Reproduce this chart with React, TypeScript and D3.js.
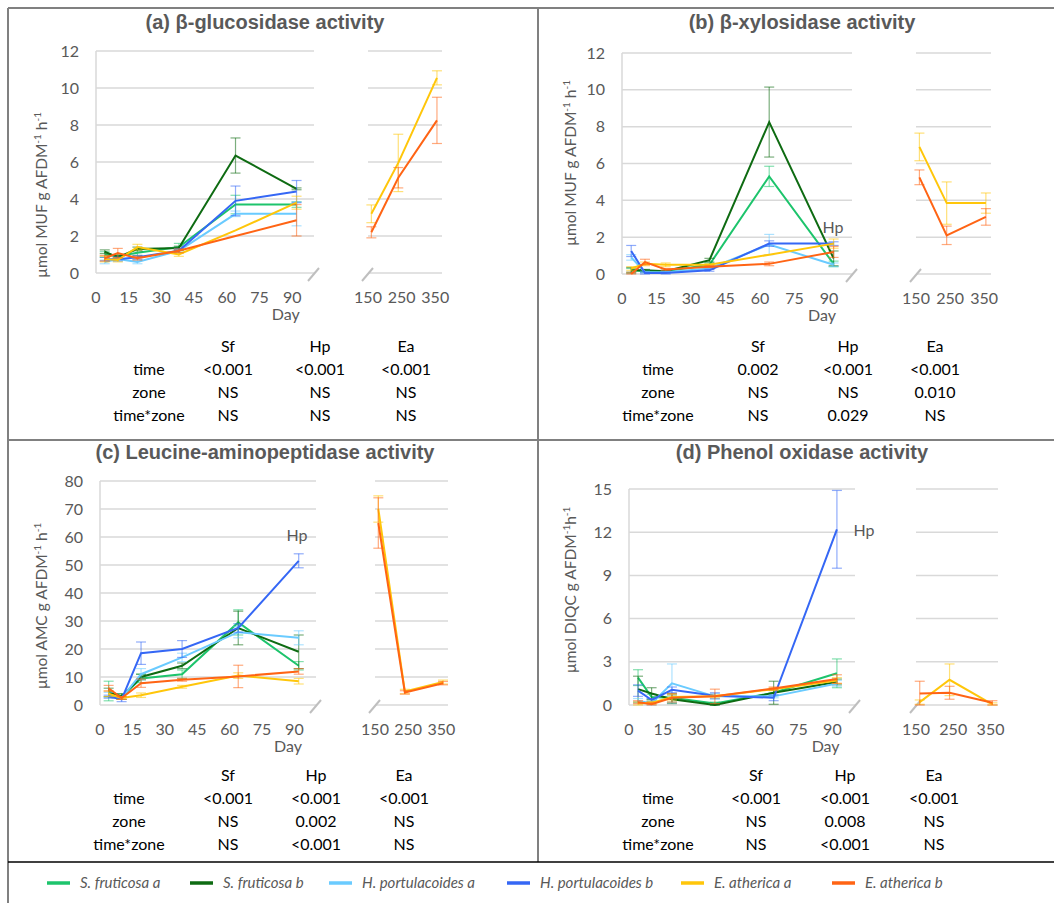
import * as d3 from 'd3';

const leftDays = [4, 10, 19, 38, 64, 92];
const rightDays = [160, 240, 355];
const leftTicks = [0, 15, 30, 45, 60, 75, 90];
const rightTicks = [150, 250, 350];

const seriesNames = ['S. fruticosa a', 'S. fruticosa b', 'H. portulacoides a', 'H. portulacoides b', 'E. atherica a', 'E. atherica b'];
const seriesColors = ['#1DC46C', '#0E6B12', '#6ACBFF', '#3567F5', '#FFC60A', '#FF6414'];

const statRows = ['time', 'zone', 'time*zone'];
const statCols = ['Sf', 'Hp', 'Ea'];

// (a) beta-glucosidase
const glcLeft = [
  [1.0, 0.9, 1.1, 1.4, 3.7, 3.7],
  [1.15, 0.85, 1.3, 1.35, 6.35, 4.55],
  [0.6, 0.75, 0.6, 1.2, 3.2, 3.2],
  [0.75, 0.75, 0.85, 1.2, 3.9, 4.4],
  [0.75, 0.7, 1.4, 1.0, 2.3, 3.8],
  [0.8, 1.08, 0.8, 1.2, 2.0, 2.85],
];
const glcLeftErr = [
  [0.15, 0.1, 0.15, 0.2, 0.5, 0.15],
  [0.1, 0.1, 0.1, 0.1, 0.95, 0.05],
  [0.1, 0.1, 0.1, 0.1, 0.15, 0.65],
  [0.1, 0.1, 0.1, 0.1, 0.8, 0.6],
  [0.15, 0.1, 0.15, 0.1, 0, 0.35],
  [0.15, 0.25, 0.1, 0.1, 0, 0.85],
];
const glcRight = [
  [3.2, 5.95, 10.55],
  [2.2, 5.15, 8.25],
];
const glcRightErr = [
  [0.48, 1.55, 0.38],
  [0.3, 0.55, 1.25],
];
const glcStats = [
  ['<0.001', '<0.001', '<0.001'],
  ['NS', 'NS', 'NS'],
  ['NS', 'NS', 'NS'],
];

// (b) beta-xylosidase
const xylLeft = [
  [0.2, 0.15, 0.15, 0.5, 5.3, 0.55],
  [0.2, 0.2, 0.15, 0.75, 8.25, 0.85],
  [0.9, 0.1, 0.1, 0.3, 1.6, 0.5],
  [1.25, 0.05, 0.05, 0.2, 1.65, 1.65],
  [0.3, 0.55, 0.5, 0.5, 1.05, 1.65],
  [0.0, 0.65, 0.25, 0.4, 0.55, 1.2],
];
const xylLeftErr = [
  [0.1, 0.05, 0.05, 0.1, 0.55, 0.15],
  [0.15, 0.05, 0.05, 0.1, 1.9, 0.4],
  [0.15, 0.05, 0.05, 0.05, 0.55, 0.1],
  [0.3, 0.05, 0.05, 0.05, 0.15, 0.1],
  [0.1, 0.1, 0.1, 0.05, 0, 0.25],
  [0.1, 0.15, 0.05, 0.05, 0.1, 0.3],
];
const xylRight = [
  [6.9, 3.85, 3.85],
  [5.25, 2.1, 3.1],
];
const xylRightErr = [
  [0.75, 1.15, 0.55],
  [0.4, 0.5, 0.45],
];
const xylStats = [
  ['0.002', '<0.001', '<0.001'],
  ['NS', 'NS', '0.010'],
  ['NS', '0.029', 'NS'],
];

// (c) leucine-aminopeptidase
const lapLeft = [
  [5.0, 3.0, 9.5, 11, 29.5, 14],
  [4.5, 3.0, 10, 14, 27.5, 19],
  [3.5, 2.5, 11, 17, 26, 24],
  [3.0, 2.0, 18.5, 20, 27.5, 51.5],
  [4.0, 2.5, 3.5, 6.5, 10.5, 8.5],
  [6.0, 2.5, 7.8, 9.0, 10.2, 12],
];
const lapLeftErr = [
  [3.5, 1, 1.5, 1.5, 4.5, 1.5],
  [1.5, 1, 1, 1, 6, 6],
  [1, 0.5, 2, 1.5, 2, 2.5],
  [0.5, 0.8, 4, 3, 1.5, 2.5],
  [1, 0.5, 0.8, 0.5, 1, 1],
  [1, 0.5, 1.5, 0.5, 4, 1],
];
const lapRight = [
  [70, 4.8, 8.2],
  [65, 4.5, 7.8],
];
const lapRightErr = [
  [4.7, 0.8, 0.7],
  [9, 0.6, 0.6],
];
const lapStats = [
  ['<0.001', '<0.001', '<0.001'],
  ['NS', '0.002', 'NS'],
  ['NS', '<0.001', 'NS'],
];

// (d) phenol oxidase
const poxLeft = [
  [1.9, 0.55, 0.5, 0.1, 0.85, 2.2],
  [1.1, 0.8, 0.4, 0.0, 0.85, 1.6],
  [0.3, 0.1, 1.5, 0.6, 0.6, 1.5],
  [1.0, 0.35, 1.05, 0.65, 0.5, 12.2],
  [0.1, 0.15, 0.55, 0.6, 1.1, 1.7],
  [0.2, 0.05, 0.5, 0.6, 1.15, 1.8],
];
const poxLeftErr = [
  [0.55, 0.2, 0.3, 0.1, 0.2, 1.0],
  [0.9, 0.4, 0.3, 0.05, 0.8, 0.2],
  [0.15, 0.1, 1.35, 0.2, 0.1, 0.2],
  [0.4, 0.1, 0.2, 0.2, 0.2, 2.7],
  [0.1, 0.1, 0.2, 0.1, 0.1, 0.2],
  [0.1, 0.1, 0.3, 0.5, 0.1, 0.3],
];
const poxRight = [
  [0.2, 1.75, 0.05],
  [0.8, 0.85, 0.15],
];
const poxRightErr = [
  [0.15, 1.1, 0.1],
  [0.85, 0.45, 0.15],
];
const poxStats = [
  ['<0.001', '<0.001', '<0.001'],
  ['NS', '0.008', 'NS'],
  ['NS', '<0.001', 'NS'],
];

const FONT = 'Lato, "Open Sans", sans-serif';
const GREY = '#595959';
const GRID = '#D9D9D9';

type Layout = {
  lx: [number, number];
  rx: [number, number];
  yr: [number, number];
  titleX: number;
  titleY: number;
  yTitleX: number;
  yTitleY: number;
  tableY: number;
  tableX: [number, number, number, number];
  hp?: [number, number];
};

function ErrBar({ x, y0, y1, color }: { x: number; y0: number; y1: number; color: string }) {
  return (
    <g stroke={color} strokeOpacity={0.55} strokeWidth={1.2}>
      <line x1={x} x2={x} y1={y0} y2={y1} />
      <line x1={x - 5} x2={x + 5} y1={y0} y2={y0} />
      <line x1={x - 5} x2={x + 5} y1={y1} y2={y1} />
    </g>
  );
}

function Panel(props: {
  title: string;
  unit: string;
  gap?: string;
  yMax: number;
  yStep: number;
  left: number[][];
  leftErr: number[][];
  right: number[][];
  rightErr: number[][];
  stats: string[][];
  L: Layout;
}) {
  const { title, unit, gap = ' ', yMax, yStep, left, leftErr, right, rightErr, stats, L } = props;
  const x = d3.scaleLinear().domain([0, 100]).range(L.lx);
  const xr = d3.scaleLinear().domain([150, 370]).range(L.rx);
  const y = d3.scaleLinear().domain([0, yMax]).range(L.yr);
  const yTicks = d3.range(0, yMax + yStep / 2, yStep);
  const bottom = L.yr[0];

  const lineL = d3
    .line<number>()
    .x((_, i) => x(leftDays[i]))
    .y((d) => y(d));
  const lineR = d3
    .line<number>()
    .x((_, i) => xr(rightDays[i]))
    .y((d) => y(d));

  return (
    <g fontFamily={FONT}>
      <text x={L.titleX} y={L.titleY} textAnchor="middle" fontFamily='"Liberation Sans", Arial, sans-serif' fontWeight="bold" fontSize={20} fill={GREY}>
        {title}
      </text>

      {/* grid */}
      {yTicks.map((t) => (
        <g key={t}>
          <line x1={L.lx[0]} x2={L.lx[1]} y1={y(t)} y2={y(t)} stroke={GRID} strokeWidth={1.5} />
          <line x1={L.rx[0]} x2={L.rx[1]} y1={y(t)} y2={y(t)} stroke={GRID} strokeWidth={1.5} />
          <text x={L.lx[0] - 17} y={y(t) + 5.5} textAnchor="end" fontSize={16} fill={GREY}>
            {t}
          </text>
        </g>
      ))}
      <line x1={L.lx[0]} x2={L.lx[0]} y1={L.yr[1]} y2={bottom} stroke={GRID} strokeWidth={1.5} />

      {/* break marks */}
      <line x1={L.lx[1] - 6} x2={L.lx[1] + 5} y1={bottom + 8} y2={bottom - 5} stroke="#BFBFBF" strokeWidth={2} />
      <line x1={L.rx[0] - 6} x2={L.rx[0] + 5} y1={bottom + 8} y2={bottom - 5} stroke="#BFBFBF" strokeWidth={2} />

      {leftTicks.map((t) => (
        <text key={t} x={x(t)} y={bottom + 30} textAnchor="middle" fontSize={16} fill={GREY}>
          {t}
        </text>
      ))}
      {rightTicks.map((t) => (
        <text key={t} x={xr(t)} y={bottom + 30} textAnchor="middle" fontSize={16} fill={GREY}>
          {t}
        </text>
      ))}
      <text x={x(87)} y={bottom + 47} textAnchor="middle" fontSize={16} fill={GREY}>
        Day
      </text>

      <text transform={`translate(${L.yTitleX},${L.yTitleY}) rotate(-90)`} textAnchor="middle" fontSize={15.5} fill={GREY}>
        {`µmol ${unit} g AFDM`}
        <tspan fontSize={10} dy={-6}>-1</tspan>
        <tspan dy={6}>{gap}h</tspan>
        <tspan fontSize={10} dy={-6}>-1</tspan>
      </text>

      {/* series */}
      {left.map((vals, s) => (
        <g key={s}>
          {vals.map((v, i) =>
            leftErr[s][i] > 0 ? (
              <ErrBar key={i} x={x(leftDays[i])} y0={y(v + leftErr[s][i])} y1={y(Math.max(0, v - leftErr[s][i]))} color={seriesColors[s]} />
            ) : null,
          )}
          <path d={lineL(vals) ?? ''} fill="none" stroke={seriesColors[s]} strokeWidth={2} />
        </g>
      ))}
      {right.map((vals, k) => (
        <g key={k}>
          {vals.map((v, i) => (
            <ErrBar key={i} x={xr(rightDays[i])} y0={y(v + rightErr[k][i])} y1={y(Math.max(0, v - rightErr[k][i]))} color={seriesColors[4 + k]} />
          ))}
          <path d={lineR(vals) ?? ''} fill="none" stroke={seriesColors[4 + k]} strokeWidth={2} />
        </g>
      ))}

      {L.hp && (
        <text x={L.hp[0]} y={L.hp[1]} fontSize={16} fill={GREY} textAnchor="middle">
          Hp
        </text>
      )}

      {/* stats table */}
      <g fontSize={16} fill="#000" textAnchor="middle">
        {statCols.map((c, j) => (
          <text key={c} x={L.tableX[j + 1]} y={L.tableY}>
            {c}
          </text>
        ))}
        {statRows.map((r, i) => (
          <g key={r}>
            <text x={L.tableX[0]} y={L.tableY + 23 * (i + 1)}>
              {r}
            </text>
            {stats[i].map((v, j) => (
              <text key={j} x={L.tableX[j + 1]} y={L.tableY + 23 * (i + 1)}>
                {v}
              </text>
            ))}
          </g>
        ))}
      </g>
    </g>
  );
}

const layoutA: Layout = {
  lx: [96, 314], rx: [368, 442], yr: [273, 51],
  titleX: 265, titleY: 29, yTitleX: 47, yTitleY: 195,
  tableY: 352, tableX: [149, 228, 320, 406],
};
const layoutB: Layout = {
  lx: [622, 852], rx: [916, 991], yr: [274, 53],
  titleX: 802, titleY: 29, yTitleX: 576, yTitleY: 163,
  tableY: 352, tableX: [658, 758, 848, 935], hp: [833, 233],
};
const layoutC: Layout = {
  lx: [100, 316], rx: [375, 448], yr: [705, 481],
  titleX: 265, titleY: 459, yTitleX: 47, yTitleY: 606,
  tableY: 781, tableX: [129, 228, 316, 404], hp: [297, 541],
};
const layoutD: Layout = {
  lx: [629, 855], rx: [916, 998], yr: [705, 489],
  titleX: 802, titleY: 459, yTitleX: 576, yTitleY: 590,
  tableY: 781, tableX: [658, 756, 845, 934], hp: [864, 536],
};

const legendLineX = [47, 190, 329, 507, 681, 832];

export default function App() {
  return (
    <svg width={1054} height={903} style={{ position: 'absolute', left: 0, top: 0, background: '#fff' }}>
      <rect width={1054} height={903} fill="#fff" />
      {/* frame */}
      <g stroke="#808080" strokeWidth={2}>
        <line x1={8} x2={1054} y1={8} y2={8} />
        <line x1={8} x2={8} y1={8} y2={903} />
        <line x1={538} x2={538} y1={8} y2={862} />
        <line x1={8} x2={1054} y1={440} y2={440} />
      </g>
      <line x1={8} x2={1054} y1={862} y2={862} stroke="#000" strokeWidth={1.5} />

      <Panel title="(a) β-glucosidase activity" unit="MUF" yMax={12} yStep={2} left={glcLeft} leftErr={glcLeftErr} right={glcRight} rightErr={glcRightErr} stats={glcStats} L={layoutA} />
      <Panel title="(b) β-xylosidase activity" unit="MUF" yMax={12} yStep={2} left={xylLeft} leftErr={xylLeftErr} right={xylRight} rightErr={xylRightErr} stats={xylStats} L={layoutB} />
      <Panel title="(c) Leucine-aminopeptidase activity" unit="AMC" yMax={80} yStep={10} left={lapLeft} leftErr={lapLeftErr} right={lapRight} rightErr={lapRightErr} stats={lapStats} L={layoutC} />
      <Panel title="(d) Phenol oxidase activity" unit="DIQC" gap="" yMax={15} yStep={3} left={poxLeft} leftErr={poxLeftErr} right={poxRight} rightErr={poxRightErr} stats={poxStats} L={layoutD} />

      {/* legend */}
      <g fontFamily={FONT} fontSize={15} fontStyle="italic" fill={GREY}>
        {seriesNames.map((n, i) => (
          <g key={n}>
            <line x1={legendLineX[i]} x2={legendLineX[i] + 23} y1={883} y2={883} stroke={seriesColors[i]} strokeWidth={3.5} />
            <text x={legendLineX[i] + 33} y={888}>
              {n}
            </text>
          </g>
        ))}
      </g>
    </svg>
  );
}
